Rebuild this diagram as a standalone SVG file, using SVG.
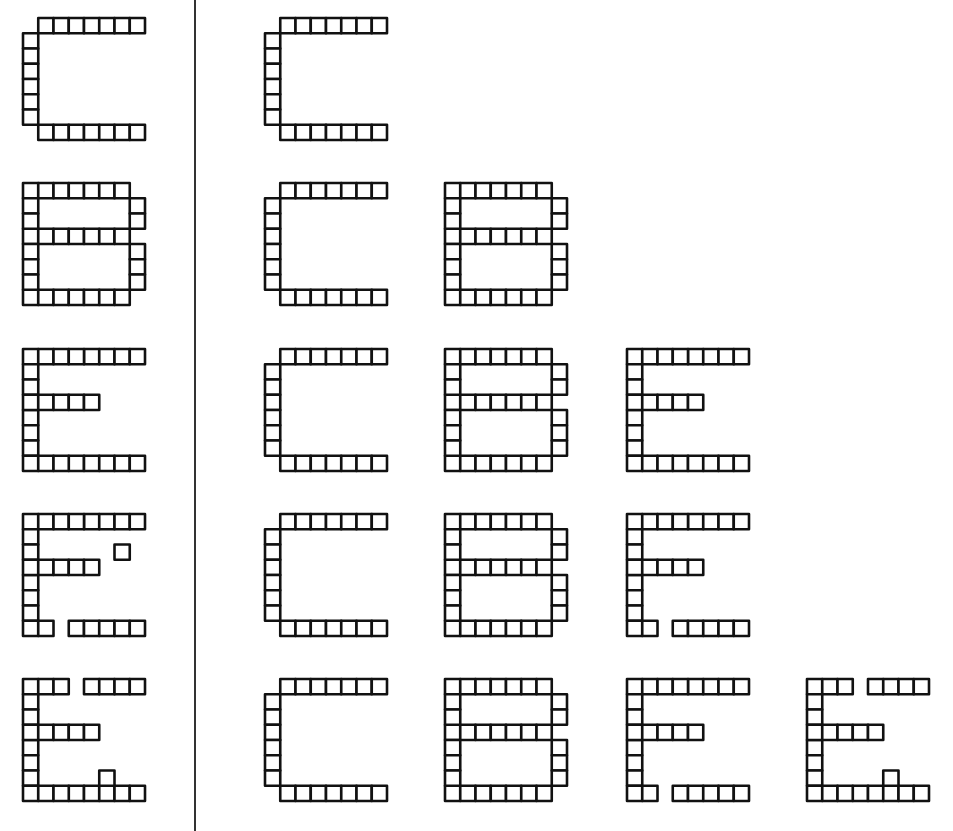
<svg xmlns="http://www.w3.org/2000/svg" xmlns:xlink="http://www.w3.org/1999/xlink" width="953" height="831" viewBox="0 0 953 831">
<style>
.cell{fill:#fff;stroke:#111;stroke-width:2.6;stroke-linejoin:round}
.divider{stroke:#333;stroke-width:2}
</style>
<defs>
<rect id="c" class="cell" width="15.25" height="15.25"/>
<g id="L-C">
<use href="#c" x="15.25" y="0"/><use href="#c" x="30.5" y="0"/><use href="#c" x="45.75" y="0"/><use href="#c" x="61" y="0"/><use href="#c" x="76.25" y="0"/><use href="#c" x="91.5" y="0"/><use href="#c" x="106.75" y="0"/>
<use href="#c" x="0" y="15.25"/><use href="#c" x="0" y="30.5"/><use href="#c" x="0" y="45.75"/><use href="#c" x="0" y="61"/><use href="#c" x="0" y="76.25"/><use href="#c" x="0" y="91.5"/>
<use href="#c" x="15.25" y="106.75"/><use href="#c" x="30.5" y="106.75"/><use href="#c" x="45.75" y="106.75"/><use href="#c" x="61" y="106.75"/><use href="#c" x="76.25" y="106.75"/><use href="#c" x="91.5" y="106.75"/><use href="#c" x="106.75" y="106.75"/>
</g>
<g id="L-B">
<use href="#c" x="0" y="0"/><use href="#c" x="15.25" y="0"/><use href="#c" x="30.5" y="0"/><use href="#c" x="45.75" y="0"/><use href="#c" x="61" y="0"/><use href="#c" x="76.25" y="0"/><use href="#c" x="91.5" y="0"/>
<use href="#c" x="0" y="45.75"/><use href="#c" x="15.25" y="45.75"/><use href="#c" x="30.5" y="45.75"/><use href="#c" x="45.75" y="45.75"/><use href="#c" x="61" y="45.75"/><use href="#c" x="76.25" y="45.75"/><use href="#c" x="91.5" y="45.75"/>
<use href="#c" x="0" y="106.75"/><use href="#c" x="15.25" y="106.75"/><use href="#c" x="30.5" y="106.75"/><use href="#c" x="45.75" y="106.75"/><use href="#c" x="61" y="106.75"/><use href="#c" x="76.25" y="106.75"/><use href="#c" x="91.5" y="106.75"/>
<use href="#c" x="0" y="15.25"/><use href="#c" x="0" y="30.5"/><use href="#c" x="0" y="61"/><use href="#c" x="0" y="76.25"/><use href="#c" x="0" y="91.5"/>
<use href="#c" x="106.75" y="15.25"/><use href="#c" x="106.75" y="30.5"/><use href="#c" x="106.75" y="61"/><use href="#c" x="106.75" y="76.25"/><use href="#c" x="106.75" y="91.5"/>
</g>
<g id="E-spine">
<use href="#c" x="0" y="0"/><use href="#c" x="15.25" y="0"/><use href="#c" x="30.5" y="0"/>
<use href="#c" x="0" y="15.25"/><use href="#c" x="0" y="30.5"/><use href="#c" x="0" y="61"/><use href="#c" x="0" y="76.25"/><use href="#c" x="0" y="91.5"/>
<use href="#c" x="0" y="45.75"/><use href="#c" x="15.25" y="45.75"/><use href="#c" x="30.5" y="45.75"/><use href="#c" x="45.75" y="45.75"/><use href="#c" x="61" y="45.75"/>
<use href="#c" x="0" y="106.75"/><use href="#c" x="15.25" y="106.75"/>
<use href="#c" x="45.75" y="106.75"/><use href="#c" x="61" y="106.75"/><use href="#c" x="76.25" y="106.75"/><use href="#c" x="91.5" y="106.75"/><use href="#c" x="106.75" y="106.75"/>
</g>
<g id="E-top-rest">
<use href="#c" x="61" y="0"/><use href="#c" x="76.25" y="0"/><use href="#c" x="91.5" y="0"/><use href="#c" x="106.75" y="0"/>
</g>
<g id="L-E">
<use href="#E-spine"/><use href="#E-top-rest"/>
<use href="#c" x="45.75" y="0"/>
<use href="#c" x="30.5" y="106.75"/>
</g>
<g id="L-E2">
<use href="#E-spine"/><use href="#E-top-rest"/>
<use href="#c" x="45.75" y="0"/>
</g>
<g id="L-E1">
<use href="#L-E2"/>
<use href="#c" x="91.5" y="30.5"/>
</g>
<g id="L-E3">
<use href="#E-spine"/><use href="#E-top-rest"/>
<use href="#c" x="30.5" y="106.75"/>
<use href="#c" x="76.25" y="91.5"/>
</g>
</defs>
<rect width="953" height="831" fill="#fff"/>
<g id="connectors">
<line class="divider" x1="195" y1="0" x2="195" y2="831"/>
</g>
<g id="left-C"><use href="#L-C" x="23" y="18"/></g>
<g id="left-B"><use href="#L-B" x="23" y="183"/></g>
<g id="left-E"><use href="#L-E" x="23" y="349"/></g>
<g id="left-E1"><use href="#L-E1" x="23" y="514"/></g>
<g id="left-E3"><use href="#L-E3" x="23" y="679"/></g>
<g id="r1-C"><use href="#L-C" x="265" y="18"/></g>
<g id="r2-C"><use href="#L-C" x="265" y="183"/></g>
<g id="r2-B"><use href="#L-B" x="445" y="183"/></g>
<g id="r3-C"><use href="#L-C" x="265" y="349"/></g>
<g id="r3-B"><use href="#L-B" x="445" y="349"/></g>
<g id="r3-E"><use href="#L-E" x="627" y="349"/></g>
<g id="r4-C"><use href="#L-C" x="265" y="514"/></g>
<g id="r4-B"><use href="#L-B" x="445" y="514"/></g>
<g id="r4-E"><use href="#L-E2" x="627" y="514"/></g>
<g id="r5-C"><use href="#L-C" x="265" y="679"/></g>
<g id="r5-B"><use href="#L-B" x="445" y="679"/></g>
<g id="r5-E"><use href="#L-E2" x="627" y="679"/></g>
<g id="r5-E3"><use href="#L-E3" x="807" y="679"/></g>
</svg>
